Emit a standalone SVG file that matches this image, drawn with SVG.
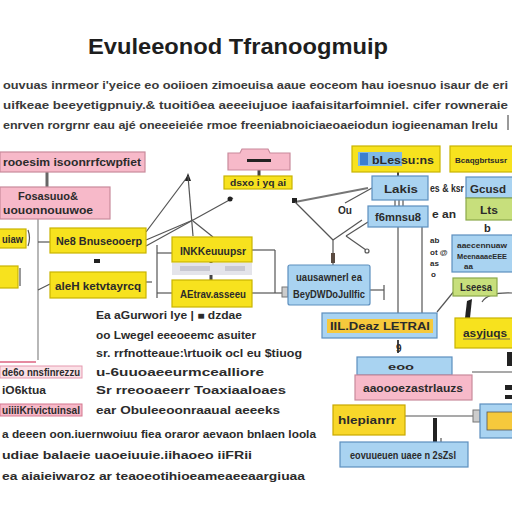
<svg xmlns="http://www.w3.org/2000/svg" width="512" height="512" viewBox="0 0 512 512">
<style>
text{font-family:"Liberation Sans",Arial,sans-serif;fill:#2b2b2b;font-weight:bold}
.t{font-size:22px;fill:#1e1e1e}
.p{font-size:11.5px;fill:#3a3a3a}
.s{font-size:11px}
.y{fill:#f7e21e;stroke:#c8b400;stroke-width:1.2}
.o{fill:#f8d72a;stroke:#c8a800;stroke-width:1.2}
.k{fill:#f7b9c9;stroke:#c98a9c;stroke-width:1.2}
.b{fill:#a9d3f1;stroke:#5d8fbe;stroke-width:1.2}
.g{fill:#c7df7c;stroke:#8aa94a;stroke-width:1.2}
.l{stroke:#555;stroke-width:1.2;fill:none}
.d{fill:#222}
</style>
<rect width="512" height="512" fill="#fff"/>
<text class="t" x="88" y="54" textLength="300" lengthAdjust="spacingAndGlyphs">Evuleeonod Tfranoogmuip</text>
<text class="p" x="3" y="89" textLength="505" lengthAdjust="spacingAndGlyphs">ouvuas inrmeor i'yeice eo ooiioen zimoeuisa aaue eoceom hau ioesnuo isaur de eri</text>
<text class="p" x="3" y="109" textLength="505" lengthAdjust="spacingAndGlyphs">uifkeae beeyetigpnuiy.&amp; tuoitiôea aeeeiujuoe iaafaisitarfoimniel. cifer rowneraie</text>
<text class="p" x="3" y="129" textLength="495" lengthAdjust="spacingAndGlyphs">enrven rorgrnr eau ajé oneeeieiée rmoe freeniabnoiciaeoaeiodun iogieenaman lrelu</text>
<line x1="508" y1="115" x2="508" y2="130" class="l"/>
<g id="connectors">
<line x1="47" y1="172" x2="47" y2="187" stroke="#666" stroke-width="3"/>
<line x1="38" y1="219" x2="38" y2="360" stroke="#888" stroke-width="1.2"/>
<line x1="0" y1="362" x2="36" y2="362" stroke="#e58aa0" stroke-width="2"/>
<line x1="38" y1="242" x2="50" y2="242" class="l"/>
<line x1="38" y1="290" x2="50" y2="284" class="l"/>
<path d="M28,230 Q31,238 28,246" class="l" stroke="#5d8fbe"/>
<line x1="20" y1="268" x2="20" y2="286" class="l"/>
<line x1="146" y1="232" x2="188" y2="176" class="l"/>
<line x1="146" y1="246" x2="233" y2="198" class="l"/>
<circle cx="230" cy="199" r="2.5" class="d"/>
<polygon points="188,173 185,181 191,181" class="d"/>
<line x1="188" y1="176" x2="193" y2="236" class="l"/>
<line x1="146" y1="240" x2="193" y2="220" class="l"/>
<line x1="193" y1="221" x2="213" y2="237" class="l"/>
<line x1="157" y1="245" x2="157" y2="298" class="l"/>
<line x1="157" y1="253" x2="172" y2="253" class="l"/>
<line x1="157" y1="293" x2="172" y2="293" class="l"/>
<line x1="146" y1="282" x2="152" y2="282" class="l"/>
<rect x="94" y="259" width="6" height="4" class="d"/>
<line x1="211" y1="262" x2="211" y2="282" stroke="#444" stroke-width="3"/>
<line x1="252" y1="250" x2="275" y2="250" class="l"/>
<line x1="275" y1="250" x2="275" y2="293" class="l"/>
<line x1="252" y1="293" x2="282" y2="293" class="l"/>
<rect x="282" y="287" width="6" height="10" fill="#ccc" stroke="#777"/>
<line x1="259" y1="170" x2="259" y2="176" stroke="#444" stroke-width="3"/>
<line x1="295" y1="202" x2="368" y2="188" stroke="#777" stroke-width="2"/>
<rect x="292" y="198" width="5" height="5" class="d"/>
<line x1="295" y1="202" x2="333" y2="240" class="l"/>
<line x1="333" y1="240" x2="362" y2="220" class="l"/>
<line x1="333" y1="240" x2="333" y2="265" class="l"/>
<rect x="331" y="253" width="4" height="10" fill="#5a4a40"/>
<line x1="372" y1="188" x2="345" y2="203" class="l"/>
<line x1="368" y1="222" x2="346" y2="236" class="l"/>
<line x1="346" y1="236" x2="366" y2="250" class="l"/>
<circle cx="367" cy="251" r="2" class="l"/>
<line x1="395" y1="200" x2="395" y2="207" class="l"/>
<line x1="399" y1="200" x2="399" y2="207" class="l"/>
<line x1="403" y1="200" x2="403" y2="207" class="l"/>
<line x1="398" y1="172" x2="398" y2="176" stroke="#444" stroke-width="2"/>
<line x1="398" y1="227" x2="398" y2="313" class="l" stroke="#888"/>
<line x1="422" y1="227" x2="422" y2="313" class="l" stroke="#888"/>
<line x1="370" y1="290" x2="384" y2="290" class="l" stroke="#888"/>
<line x1="384" y1="285" x2="384" y2="300" class="l" stroke="#888"/>
<line x1="455" y1="290" x2="437" y2="312" class="l"/>
<path d="M467,301 L472,299 L470,318 L465,318 Z" class="d"/>
<path d="M482,302 Q488,292 512,293" class="l" stroke="#222" stroke-width="2"/>
<line x1="398" y1="340" x2="398" y2="353" stroke="#444" stroke-width="2"/>
<line x1="472" y1="372" x2="512" y2="372" class="l"/>
<rect x="507" y="352" width="5" height="14" class="d"/>
<rect x="505" y="385" width="7" height="5" class="d"/>
<rect x="505" y="395" width="7" height="4" class="d"/>
<line x1="405" y1="416" x2="480" y2="416" class="l"/>
<rect x="473" y="410" width="7" height="12" fill="#ccc" stroke="#777"/>
<rect x="433" y="418" width="4" height="24" class="d"/>
<line x1="441" y1="442" x2="441" y2="438" class="l"/>
</g>
<g id="n1"><rect x="0" y="152" width="145" height="20" class="k"/><text class="s" x="3" y="166" textLength="138" lengthAdjust="spacingAndGlyphs">rooesim isoonrrfcwpfiet</text></g>
<g id="n2"><rect x="0" y="187" width="110" height="32" class="k"/><text class="s" x="18" y="200" textLength="60" lengthAdjust="spacingAndGlyphs" fill="#555">Fosasuuo&amp;</text><text class="s" x="3" y="214" textLength="90" lengthAdjust="spacingAndGlyphs">uouonnouuwoe</text></g>
<g id="n3"><rect x="-1" y="229" width="27" height="19" class="y"/><text class="s" x="2" y="243" textLength="21" lengthAdjust="spacingAndGlyphs">uiaw</text></g>
<g id="n4"><rect x="-1" y="266" width="19" height="22" class="y"/></g>
<g id="n5"><rect x="50" y="228" width="96" height="25" class="y"/><text class="s" x="56" y="245" textLength="86" lengthAdjust="spacingAndGlyphs">Ne8 Bnuseooerp</text></g>
<g id="n6"><rect x="50" y="272" width="96" height="26" class="y"/><text class="s" x="55" y="290" textLength="86" lengthAdjust="spacingAndGlyphs">aleH ketvtayrcq</text></g>
<g id="n7"><rect x="172" y="237" width="80" height="25" class="y"/><text class="s" x="180" y="255" textLength="66" lengthAdjust="spacingAndGlyphs">INKKeuuupsr</text></g>
<g id="n8"><rect x="172" y="263" width="80" height="12" fill="#e4e4ea"/><rect x="180" y="266" width="30" height="5" fill="#c8c8d2"/><rect x="225" y="266" width="20" height="5" fill="#c8c8d2"/></g>
<g id="n9"><rect x="172" y="280" width="80" height="27" class="y"/><text class="s" x="180" y="298" textLength="66" lengthAdjust="spacingAndGlyphs">AEtrav.asseeu</text></g>
<g id="n10"><path d="M228,153 L240,153 L242,149 L268,149 L270,153 L290,153 L290,170 L228,170 Z" class="k"/><rect x="247" y="159" width="24" height="3" class="d"/></g>
<g id="n11"><rect x="224" y="176" width="68" height="13" class="y"/><text x="230" y="186" font-size="9" textLength="56" lengthAdjust="spacingAndGlyphs">dsxo i yq ai</text></g>
<g id="n12"><rect x="288" y="265" width="82" height="40" rx="2" class="b"/><text class="s" x="296" y="281" textLength="66" lengthAdjust="spacingAndGlyphs">uausawnerl ea</text><text class="s" x="293" y="298" textLength="72" lengthAdjust="spacingAndGlyphs">BeyDWDoJuIlfic</text></g>
<text x="338" y="214" font-size="11" textLength="14" lengthAdjust="spacingAndGlyphs">Ou</text>
<g id="n13"><rect x="352" y="146" width="88" height="26" class="y"/><rect x="358" y="152" width="44" height="14" fill="#7fb9e6"/><rect x="360" y="153" width="8" height="12" fill="#3b7fd0"/><text x="372" y="164" font-size="11" textLength="62" lengthAdjust="spacingAndGlyphs">bLessu:ns</text></g>
<g id="n14"><rect x="372" y="176" width="56" height="24" class="b"/><text class="s" x="384" y="193" textLength="34" lengthAdjust="spacingAndGlyphs">Lakis</text></g>
<text x="430" y="192" font-size="10" textLength="34" lengthAdjust="spacingAndGlyphs" fill="#555">es &amp; ksr</text>
<g id="n15"><rect x="368" y="206" width="60" height="21" class="b"/><text class="s" x="375" y="221" textLength="46" lengthAdjust="spacingAndGlyphs">f6mnsu8</text></g>
<text x="432" y="218" font-size="10" textLength="24" lengthAdjust="spacingAndGlyphs" fill="#555">e an</text>
<g id="n16"><rect x="450" y="146" width="64" height="26" class="y"/><text x="455" y="163" font-size="8" textLength="52" lengthAdjust="spacingAndGlyphs">Bcaqgbrtsusr</text></g>
<g id="n17"><rect x="466" y="177" width="48" height="21" class="b"/><text class="s" x="470" y="193" textLength="36" lengthAdjust="spacingAndGlyphs">Gcusd</text></g>
<g id="n18"><rect x="466" y="198" width="48" height="22" class="g"/><text class="s" x="480" y="214" textLength="18" lengthAdjust="spacingAndGlyphs">Lts</text></g>
<text x="484" y="232" font-size="11" fill="#444">b</text>
<g fill="#555" font-size="8"><text x="430" y="243">ab</text><text x="430" y="255">ot @</text><text x="430" y="266">as</text><text x="431" y="277">o</text></g>
<g id="n19"><rect x="452" y="235" width="62" height="37" class="b"/><text x="457" y="248" font-size="8" textLength="50" lengthAdjust="spacingAndGlyphs">aaecennuaw</text><text x="457" y="259" font-size="7.5" textLength="50" lengthAdjust="spacingAndGlyphs">MeenaaaeEEE</text><text x="464" y="269" font-size="8">aa</text></g>
<g id="n20"><rect x="453" y="278" width="44" height="18" class="g"/><text x="460" y="291" font-size="10" textLength="32" lengthAdjust="spacingAndGlyphs">Lseesa</text></g>
<g id="n21"><rect x="322" y="313" width="115" height="25" class="b"/><rect x="327" y="319" width="106" height="14" fill="#f6c93c"/><text x="330" y="330" font-size="11" textLength="100" lengthAdjust="spacingAndGlyphs">IIL.Deaz LETRAl</text></g>
<text x="396" y="352" font-size="10">9</text>
<g id="n22"><rect x="357" y="357" width="95" height="18" class="b"/><text x="388" y="370" font-size="9" textLength="26" lengthAdjust="spacingAndGlyphs">eoo</text></g>
<g id="n23"><rect x="355" y="375" width="117" height="25" class="k"/><text x="363" y="392" font-size="10" textLength="100" lengthAdjust="spacingAndGlyphs">aaoooezastrlauzs</text></g>
<g id="n24"><rect x="455" y="318" width="60" height="30" class="y"/><text x="463" y="337" font-size="11" textLength="44" lengthAdjust="spacingAndGlyphs">asyjuqs</text><line x1="463" y1="339" x2="510" y2="339" stroke="#555" stroke-width="0.8"/></g>
<g id="n25"><rect x="333" y="405" width="72" height="30" class="o"/><text x="338" y="424" font-size="10" textLength="58" lengthAdjust="spacingAndGlyphs">hlepianrr</text></g>
<g id="n26"><rect x="340" y="442" width="128" height="25" class="b"/><text x="350" y="459" font-size="10" textLength="106" lengthAdjust="spacingAndGlyphs">eovuueuen uaee n 2sZsl</text></g>
<g id="n27"><rect x="480" y="404" width="34" height="34" class="b"/><rect x="487" y="412" width="26" height="18" fill="#f6c93c" stroke="#555" stroke-width="0.8"/></g>
<g id="n28"><rect x="0" y="366" width="82" height="12" fill="#fbe0e6" stroke="#e59ab0"/><text x="2" y="376" font-size="10" fill="#a04060" textLength="78" lengthAdjust="spacingAndGlyphs">de6o nnsfinrezzu</text></g>
<text x="2" y="394" font-size="10" textLength="44" lengthAdjust="spacingAndGlyphs">iO6ktua</text>
<g id="n29"><rect x="0" y="404" width="82" height="12" fill="#f6b8c8" stroke="#d47890"/><text x="2" y="414" font-size="10" fill="#8a2a48" textLength="78" lengthAdjust="spacingAndGlyphs">uiiiiKrivictuinsal</text></g>
<g font-size="10" fill="#333">
<text x="96" y="319" textLength="146" lengthAdjust="spacingAndGlyphs">Ea   aGurwori    lye | ■ dzdae</text>
<text x="96" y="339" textLength="160" lengthAdjust="spacingAndGlyphs">oo  Lwegel  eeeoeemc  asuiter</text>
<text x="96" y="357" textLength="206" lengthAdjust="spacingAndGlyphs">sr.  rrfnotteaue:\rtuoik ocl eu $tiuog</text>
<text x="96" y="376" textLength="168" lengthAdjust="spacingAndGlyphs">u-6uuoaeeurmcealliore</text>
<text x="96" y="394" textLength="190" lengthAdjust="spacingAndGlyphs">Sr  rreooaeerr   Toaxiaaloaes</text>
<text x="96" y="414" textLength="184" lengthAdjust="spacingAndGlyphs">ear  Obuleeoonraaual  aeeeks</text>
</g>
<g font-size="11" fill="#333">
<text x="2" y="438" textLength="314" lengthAdjust="spacingAndGlyphs">a deeen oon.iuernwoiuu  fiea oraror aevaon bnlaen loola</text>
<text x="2" y="459" textLength="250" lengthAdjust="spacingAndGlyphs">udiae balaeie uaoeiuuie.iihaoeo iiFRii</text>
<text x="2" y="480" textLength="303" lengthAdjust="spacingAndGlyphs">ea aiaieiwaroz ar teaoeotihioeameaeeaargiuaa</text>
</g>
</svg>
